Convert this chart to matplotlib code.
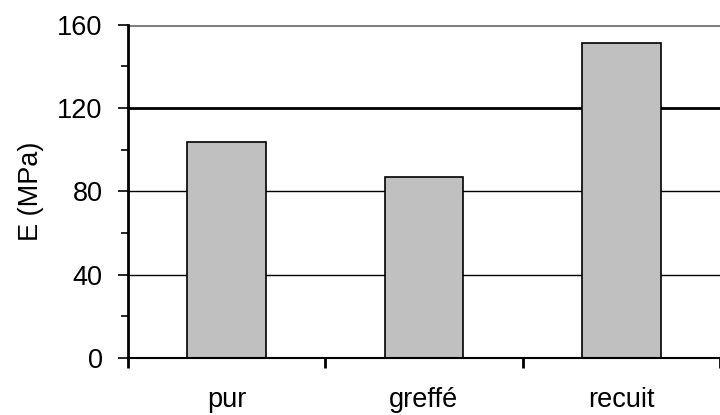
import matplotlib
matplotlib.use("Agg")
import matplotlib.pyplot as plt
import numpy as np

categories = ["pur", "greffé", "recuit"]
values = [103.5, 87.0, 151.0]
yticks = [0, 40, 80, 120, 160]
yminor = [20, 60, 100, 140]
ylabel = "E (MPa)"

plt.rcParams['font.family'] = ['Liberation Sans', 'DejaVu Sans']

fig = plt.figure(figsize=(7.2, 4.15), dpi=100)
ax = fig.add_axes([128/720, 57/415, 1 - 128/720, (358 - 24.7)/415])

x = np.arange(len(categories))
ax.bar(x, values, width=0.40, color="#C0C0C0", edgecolor="black", linewidth=1.2, zorder=3)

# gridlines
grid_styles = {40: ("black", 1.0), 80: ("black", 1.0), 120: ("black", 2.0), 160: ("#808080", 2.2)}
for yv, (c, lw) in grid_styles.items():
    ax.axhline(yv, color=c, linewidth=lw, zorder=1)

ax.set_ylim(0, 160)
ax.set_xlim(-0.5, -0.5 + 592/200.0)

for s in ["top", "right"]:
    ax.spines[s].set_visible(False)
ax.spines["left"].set_linewidth(2.0)
ax.spines["bottom"].set_linewidth(1.5)
ax.spines["left"].set_zorder(4)
ax.spines["bottom"].set_zorder(4)

fs = 19.5
ax.set_yticks(yticks)
ax.set_yticks(yminor, minor=True)
ax.set_yticklabels([str(v) for v in yticks], fontsize=fs)
ax.tick_params(axis="y", which="major", direction="out", length=7.2, width=1.2, pad=11)
ax.tick_params(axis="y", which="minor", direction="out", length=5, width=1.2)

ax.set_xticks(np.arange(len(categories) + 1) - 0.5)
ax.set_xticklabels([""] * (len(categories) + 1))
ax.set_xticks(x, minor=True)
ax.set_xticklabels(categories, minor=True, fontsize=fs)
ax.tick_params(axis="x", which="major", direction="out", length=7.2, width=2.0)
ax.tick_params(axis="x", which="minor", length=0, pad=21)

ax.set_ylabel(ylabel, fontsize=fs)
ax.yaxis.label.set(ha="center", va="center", rotation_mode="anchor")
ax.yaxis.set_label_coords((31 - 128)/592, 0.5)

fig.savefig("out.png", dpi=100)
